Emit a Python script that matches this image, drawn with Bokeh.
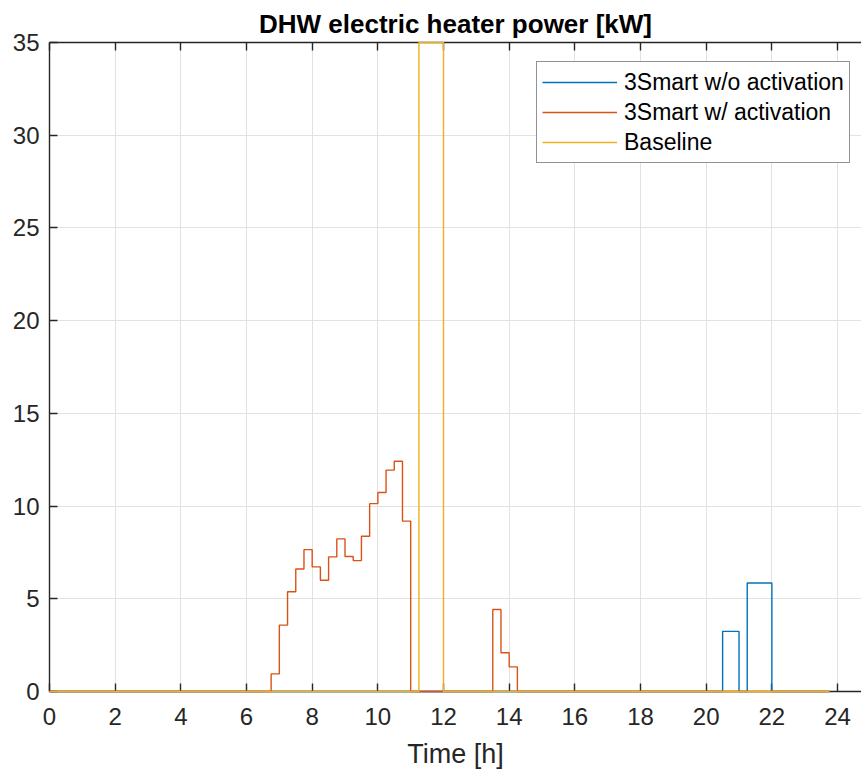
from bokeh.plotting import figure
from bokeh.models import Range1d, FixedTicker, LinearAxis, Legend, LegendItem
from bokeh.embed import file_html
from bokeh.resources import INLINE

# Quarter-hour time steps over one day [h]
hours = [i * 0.25 for i in range(96)]

# DHW electric heater power per quarter hour [kW], one row = 2 hours
no_activation = [
    0, 0, 0, 0, 0, 0, 0, 0,
    0, 0, 0, 0, 0, 0, 0, 0,
    0, 0, 0, 0, 0, 0, 0, 0,
    0, 0, 0, 0, 0, 0, 0, 0,
    0, 0, 0, 0, 0, 0, 0, 0,
    0, 0, 0, 0, 0, 0, 0, 0,
    0, 0, 0, 0, 0, 0, 0, 0,
    0, 0, 0, 0, 0, 0, 0, 0,
    0, 0, 0, 0, 0, 0, 0, 0,
    0, 0, 0, 0, 0, 0, 0, 0,
    0, 0, 3.24, 3.24, 0, 5.85, 5.85, 5.85,
    0, 0, 0, 0, 0, 0, 0, 0,
]
with_activation = [
    0, 0, 0, 0, 0, 0, 0, 0,
    0, 0, 0, 0, 0, 0, 0, 0,
    0, 0, 0, 0, 0, 0, 0, 0,
    0, 0, 0, 0.95, 3.58, 5.38, 6.61, 7.65,
    6.72, 6.00, 7.26, 8.23, 7.28, 7.06, 8.37, 10.13,
    10.73, 11.94, 12.42, 9.19, 0, 0, 0, 0,
    0, 0, 0, 0, 0, 0, 4.42, 2.09,
    1.33, 0, 0, 0, 0, 0, 0, 0,
    0, 0, 0, 0, 0, 0, 0, 0,
    0, 0, 0, 0, 0, 0, 0, 0,
    0, 0, 0, 0, 0, 0, 0, 0,
    0, 0, 0, 0, 0, 0, 0, 0,
]
baseline = [
    0, 0, 0, 0, 0, 0, 0, 0,
    0, 0, 0, 0, 0, 0, 0, 0,
    0, 0, 0, 0, 0, 0, 0, 0,
    0, 0, 0, 0, 0, 0, 0, 0,
    0, 0, 0, 0, 0, 0, 0, 0,
    0, 0, 0, 0, 0, 35, 35, 35,
    0, 0, 0, 0, 0, 0, 0, 0,
    0, 0, 0, 0, 0, 0, 0, 0,
    0, 0, 0, 0, 0, 0, 0, 0,
    0, 0, 0, 0, 0, 0, 0, 0,
    0, 0, 0, 0, 0, 0, 0, 0,
    0, 0, 0, 0, 0, 0, 0, 0,
]

chart_title = "DHW electric heater power [kW]"
series_labels = ["3Smart w/o activation", "3Smart w/ activation", "Baseline"]
series_colors = ["#0072BD", "#D95319", "#EDB120"]

x_ticks = [0, 2, 4, 6, 8, 10, 12, 14, 16, 18, 20, 22, 24]
y_ticks = [0, 5, 10, 15, 20, 25, 30, 35]

FONT = "Liberation Sans"
INK = "#262626"

p = figure(
    width=861, height=773,
    output_backend="svg", toolbar_location=None,
    x_range=Range1d(0, 24.73), y_range=Range1d(0, 35),
    min_border_left=49, min_border_right=0,
    min_border_top=42, min_border_bottom=82,
)
p.outline_line_color = None
p.background_fill_color = "white"
p.border_fill_color = "white"

xt = FixedTicker(ticks=x_ticks)
yt = FixedTicker(ticks=y_ticks)

for ax, tk in ((p.xaxis[0], xt), (p.yaxis[0], yt)):
    ax.ticker = tk
    ax.major_tick_in = 8
    ax.major_tick_out = 0
    ax.minor_tick_line_color = None
    ax.axis_line_color = INK
    ax.axis_line_width = 1.4
    ax.major_tick_line_color = INK
    ax.major_tick_line_width = 1.4
    ax.major_label_text_font = FONT
    ax.major_label_text_font_size = "24px"
    ax.major_label_text_color = INK

p.xaxis[0].major_label_standoff = 16
p.yaxis[0].major_label_standoff = 10
p.xaxis[0].axis_label = "Time [h]"
p.xaxis[0].axis_label_text_font = FONT
p.xaxis[0].axis_label_text_font_size = "27px"
p.xaxis[0].axis_label_text_font_style = "normal"
p.xaxis[0].axis_label_text_color = INK
p.xaxis[0].axis_label_standoff = 11

# box edge along the top with inward ticks; the chart title sits above it
top_axis = LinearAxis(
    ticker=xt,
    major_tick_in=8, major_tick_out=0,
    minor_tick_line_color=None,
    axis_line_color=INK, axis_line_width=1.4,
    major_tick_line_color=INK, major_tick_line_width=1.4,
    major_label_text_font_size="0px",
    major_label_text_alpha=0,
    major_label_standoff=0,
    axis_label=chart_title,
    axis_label_text_font=FONT,
    axis_label_text_font_size="26px",
    axis_label_text_font_style="bold",
    axis_label_text_color="black",
    axis_label_standoff=4,
)
p.add_layout(top_axis, "above")

for g, tk in ((p.xgrid[0], xt), (p.ygrid[0], yt)):
    g.ticker = tk
    g.grid_line_color = "#E2E2E2"
    g.grid_line_width = 1

renderers = []
for values, color in zip((no_activation, with_activation, baseline), series_colors):
    r = p.step(hours, values, mode="after", line_color=color, line_width=1.4)
    r.level = "overlay"
    renderers.append(r)

legend = Legend(
    items=[LegendItem(label=lab, renderers=[r]) for lab, r in zip(series_labels, renderers)],
    location=(487, 528),
    orientation="vertical",
    glyph_width=75, glyph_height=30,
    label_height=30, spacing=0,
    label_standoff=7, padding=5, margin=0,
    label_text_font=FONT, label_text_font_size="23px", label_text_color="black",
    border_line_color="#262626", border_line_width=1,
    background_fill_color="white", background_fill_alpha=1,
)
p.add_layout(legend)

open("out.html", "w").write(file_html(p, INLINE))
